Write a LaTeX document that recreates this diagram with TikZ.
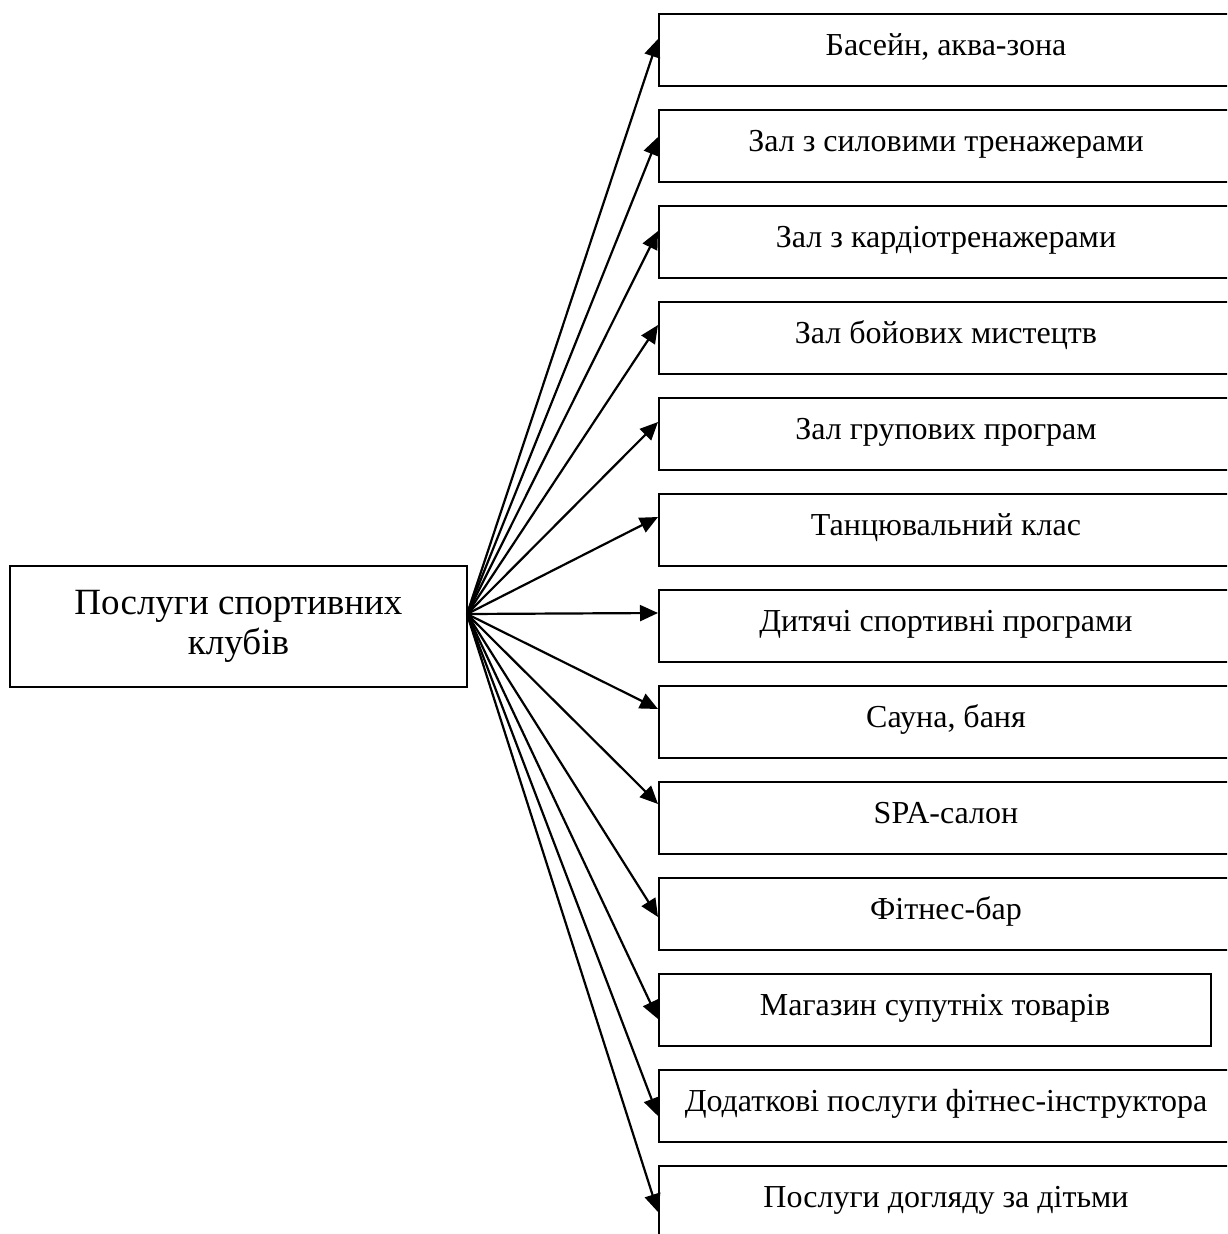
\documentclass[tikz,border=0pt]{standalone}
\usepackage{fontspec}
\setmainfont{Liberation Serif}
\usetikzlibrary{arrows.meta}

\tikzset{
  item/.style={draw,line width=2pt,minimum width=574pt,minimum height=72pt,inner sep=0pt,
    font=\fontsize{32}{38}\selectfont,text height=22pt,text depth=12pt},
  link/.style={line width=2.2pt,-{Triangle[length=18pt,width=16pt]}}
}

\begin{document}
\begin{tikzpicture}[x=1pt,y=-1pt]
\useasboundingbox (0,0) rectangle (1227,1234);
\clip (0,0) rectangle (1227,1234);
\node[draw,line width=2pt,minimum width=457pt,minimum height=121pt,align=center,
  font=\fontsize{37}{40}\selectfont] (main) at (238.5,626.5) {Послуги спортивних\\клубів};
\coordinate (hub) at (467,614);
\node[item] (b1) at (946,50) {Басейн, аква-зона};
\node[item] (b2) at (946,146) {Зал з силовими тренажерами};
\node[item] (b3) at (946,242) {Зал з кардіотренажерами};
\node[item] (b4) at (946,338) {Зал бойових мистецтв};
\node[item] (b5) at (946,434) {Зал групових програм};
\node[item] (b6) at (946,530) {Танцювальний клас};
\node[item] (b7) at (946,626) {Дитячі спортивні програми};
\node[item] (b8) at (946,722) {Сауна, баня};
\node[item] (b9) at (946,818) {SPA-салон};
\node[item] (b10) at (946,914) {Фітнес-бар};
\node[item,minimum width=552pt] (b11) at (935,1010) {Магазин супутніх товарів};
\node[item] (b12) at (946,1106) {Додаткові послуги фітнес-інструктора};
\node[item] (b13) at (946,1202) {Послуги догляду за дітьми};
\draw[link] (hub) -- ([yshift=-26pt]b1.north west);
\draw[link] (hub) -- ([yshift=-28pt]b2.north west);
\draw[link] (hub) -- ([yshift=-26pt]b3.north west);
\draw[link] (hub) -- ([yshift=-24pt]b4.north west);
\draw[link] (hub) -- ([yshift=-25pt]b5.north west);
\draw[link] (hub) -- ([yshift=-24pt]b6.north west);
\draw[link] (hub) -- ([yshift=-24pt]b7.north west);
\draw[link] (hub) -- ([yshift=-24pt]b8.north west);
\draw[link] (hub) -- ([yshift=-23pt]b9.north west);
\draw[link] (hub) -- ([yshift=-40pt]b10.north west);
\draw[link] (hub) -- ([yshift=-46pt]b11.north west);
\draw[link] (hub) -- ([yshift=-47pt]b12.north west);
\draw[link] (hub) -- ([yshift=-47pt]b13.north west);
\end{tikzpicture}
\end{document}
